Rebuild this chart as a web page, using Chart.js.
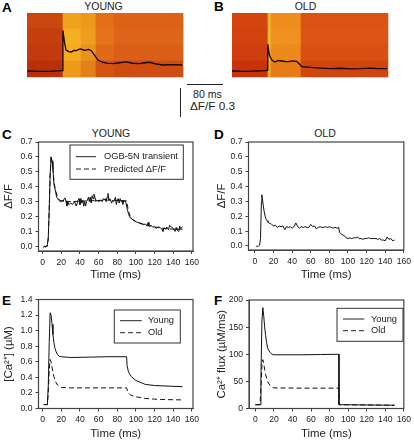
<!DOCTYPE html>
<html><head><meta charset="utf-8">
<script src="https://cdn.jsdelivr.net/npm/chart.js@4"></script>
<style>
html,body{margin:0;padding:0;background:#fff;width:414px;height:441px;overflow:hidden}
body{position:relative;font-family:"Liberation Sans",Arial,sans-serif;color:#222}
canvas{position:absolute;display:block}
.t{position:absolute;white-space:nowrap;line-height:1;transform:translate(-50%,-50%)}
.l{position:absolute;white-space:nowrap;line-height:1;font-weight:bold;font-size:13.5px;color:#000;transform:translateY(-50%)}
.bar{position:absolute;background:#222}
.edge{position:absolute;background:#f6cdb0}
</style></head><body>
<div class="l" style="left:2px;top:8px">A</div>
<div class="l" style="left:214px;top:7px">B</div>
<div class="l" style="left:2px;top:135px">C</div>
<div class="l" style="left:214px;top:135px">D</div>
<div class="l" style="left:2px;top:301px">E</div>
<div class="l" style="left:214px;top:301px">F</div>
<div class="t" style="left:103.5px;top:5.5px;font-size:10.5px">YOUNG</div>
<div class="t" style="left:305.5px;top:5.5px;font-size:10.5px">OLD</div>
<div class="t" style="left:111px;top:133px;font-size:10.5px">YOUNG</div>
<div class="t" style="left:325px;top:133px;font-size:10.5px">OLD</div>
<div class="bar" style="left:187px;top:84px;width:36px;height:1.3px"></div>
<div class="bar" style="left:179.5px;top:88px;width:1.5px;height:29px"></div>
<div class="t" style="left:207.5px;top:94px;font-size:10.6px">80 ms</div>
<div class="t" style="left:212.5px;top:106.7px;font-size:11.8px">&Delta;F/F 0.3</div>
<div class="edge" style="left:26.5px;top:12.5px;width:157px;height:65px"></div>
<div class="edge" style="left:231.5px;top:12.5px;width:157px;height:65px"></div>
<canvas id="a" width="156" height="64" style="left:27px;top:13px"></canvas>
<canvas id="aLine" width="156" height="64" style="left:27px;top:13px"></canvas>
<canvas id="b" width="156" height="64" style="left:232px;top:13px"></canvas>
<canvas id="bLine" width="156" height="64" style="left:232px;top:13px"></canvas>
<canvas id="c" width="207" height="160" style="left:0;top:120px"></canvas>
<canvas id="d" width="207" height="160" style="left:207px;top:120px"></canvas>
<canvas id="e" width="207" height="161" style="left:0;top:280px"></canvas>
<canvas id="f" width="207" height="161" style="left:207px;top:280px"></canvas>
<script>
const timeTicks=[0,20,40,60,80,100,120,140,160];
const dfTicks=[0,0.1,0.2,0.3,0.4,0.5,0.6,0.7];
const caTicks=[0,0.2,0.4,0.6,0.8,1.0,1.2,1.4];
const fluxTicks=[0,50,100,150,200];

// Line-scan colours: runs of [columns, colour], rows from top to bottom.
const heatA=[
 [[12,'#c9480f'],[6,'#f0a21f'],[5,'#ec9a1f'],[6,'#e26f1a'],[23,'#dd6117']],
 [[12,'#c53f0f'],[6,'#f4b022'],[5,'#ee9d1e'],[6,'#e5751b'],[23,'#de651a']],
 [[12,'#c33a0e'],[6,'#f3ab22'],[5,'#ea931c'],[6,'#e06a19'],[23,'#db5f18']],
 [[12,'#b8300c'],[6,'#ec9a1c'],[5,'#e2801a'],[6,'#d45414'],[23,'#cf4c13']]];
const heatB=[
 [[12,'#d4450f'],[1,'#f7b42c'],[10,'#ee8e1e'],[29,'#dc5214']],
 [[12,'#d2420f'],[1,'#f8b830'],[10,'#ef9220'],[29,'#dd5515']],
 [[12,'#cf3e0e'],[1,'#f7b42c'],[10,'#ec8a1c'],[29,'#da5013']],
 [[12,'#c8330b'],[1,'#f4a826'],[10,'#e67c18'],[29,'#d24510']]];

const traceA_t=[-79,-52,-29,-3,-1,1,4.5,8,14,20,26,31,37,42,48,53,59,65,72,80,91,100,114,128,144,158,174,185,197,212,227,249,270];
const traceA_v=[0,-0.005,-0.003,0.004,0.004,0.42,0.30,0.216,0.20,0.196,0.213,0.21,0.222,0.227,0.214,0.216,0.222,0.209,0.165,0.113,0.09,0.082,0.075,0.085,0.093,0.08,0.075,0.085,0.09,0.072,0.062,0.065,0.062];
const traceB_t=[-81,-47,-3,-1,0.7,4.4,9.7,17,24,32,40,47,56,66,72,77.5,90,104,120,141,165,187,210,232,250,270];
const traceB_v=[0,-0.003,0.004,0.01,0.275,0.165,0.113,0.093,0.108,0.103,0.098,0.096,0.104,0.1,0.072,0.044,0.04,0.034,0.03,0.024,0.028,0.021,0.024,0.03,0.024,0.024];

const cT=[1,2,3,4,5,6,7,8,9,10,11,12,13,14,15,16,17,18,19,20,21,22,23,24,25,26,27,28,30,32,34,36,38,39,40,41,42,43,44,45,46,47,48,49,50,51,52,53,54,55,56,57,58,60,62,64,65,66,67,68,69,70,71,72,74,75,76,77,78,79,80,81,82,83,84,85,86,87,88,89,90,91,92,93,94,95,96,97,98,100,102,104,106,108,110,112,113,114,116,118,120,122,124,126,128,129,130,132,133,135,136,138,140,142,143,144,146,147,148,150];
const cV=[-0.01,0,-0.005,0,0.01,0.06,0.25,0.48,0.6,0.57,0.52,0.42,0.39,0.36,0.33,0.32,0.31,0.305,0.3,0.3,0.31,0.3,0.32,0.325,0.3,0.27,0.3,0.28,0.29,0.28,0.3,0.27,0.31,0.32,0.28,0.32,0.29,0.31,0.27,0.3,0.27,0.3,0.31,0.33,0.3,0.33,0.29,0.34,0.32,0.35,0.33,0.3,0.31,0.3,0.31,0.3,0.32,0.31,0.32,0.3,0.33,0.355,0.31,0.32,0.29,0.31,0.3,0.31,0.33,0.28,0.31,0.32,0.29,0.32,0.3,0.31,0.28,0.31,0.3,0.3,0.27,0.24,0.22,0.2,0.19,0.19,0.18,0.18,0.175,0.165,0.16,0.155,0.15,0.145,0.15,0.135,0.16,0.135,0.14,0.13,0.13,0.12,0.13,0.125,0.115,0.1,0.125,0.115,0.13,0.11,0.14,0.13,0.12,0.1,0.125,0.11,0.1,0.135,0.12,0.13];
const cPredT=[1,5,6,7,8,9,10,11,12,13,14,16,18,20,30,50,70,90,91,92,94,96,100,110,120,130,140,150];
const cPredV=[0,0,0.05,0.25,0.48,0.6,0.58,0.52,0.44,0.4,0.37,0.33,0.31,0.305,0.3,0.305,0.31,0.305,0.27,0.235,0.2,0.18,0.165,0.145,0.13,0.12,0.115,0.115];

const dT=[1,2,3,4,5,6,7,7.5,8,9,10,11,12,13,14,15,17,18,20,22,24,26,28,30,32,34,36,38,40,42,44,46,48,50,52,54,56,58,60,62,64,66,68,70,72,74,76,78,80,82,84,86,88,90,91,92,94,96,98,100,102,104,106,108,110,112,114,116,118,120,122,124,126,128,130,132,134,136,138,140,142,144,146,148,150];
const dV=[-0.005,0,-0.005,0,0.005,0.05,0.3,0.345,0.32,0.27,0.23,0.2,0.18,0.17,0.16,0.155,0.15,0.145,0.135,0.14,0.125,0.135,0.13,0.135,0.11,0.13,0.125,0.13,0.12,0.13,0.155,0.13,0.12,0.13,0.125,0.13,0.125,0.125,0.145,0.13,0.135,0.115,0.125,0.13,0.125,0.125,0.13,0.125,0.13,0.125,0.12,0.125,0.12,0.125,0.09,0.085,0.075,0.07,0.055,0.05,0.055,0.05,0.055,0.055,0.06,0.05,0.05,0.045,0.05,0.05,0.055,0.05,0.05,0.05,0.05,0.045,0.05,0.04,0.04,0.035,0.06,0.045,0.05,0.035,0.04];

const eYoungT=[1,5,6,7,8,9,10,11,12,13,14,16,18,20,30,50,70,90,90.5,92,95,100,110,120,130,150];
const eYoungV=[0.05,0.05,0.3,0.85,1.23,1.2,1.08,0.95,0.85,0.78,0.74,0.69,0.67,0.665,0.655,0.66,0.665,0.665,0.55,0.47,0.41,0.36,0.31,0.295,0.29,0.28];
const eOldT=[1,5,6,7,8,9,10,11,12,14,16,18,20,30,50,70,90,91,92,94,97,100,110,120,130,150];
const eOldV=[0.05,0.05,0.2,0.5,0.63,0.6,0.53,0.47,0.41,0.34,0.3,0.28,0.27,0.265,0.265,0.265,0.265,0.23,0.2,0.175,0.16,0.15,0.13,0.12,0.115,0.11];

const fYoungT=[0,5,6,7,8,9,10,11,12,13,14,16,18,20,50,70,90,90.1,150];
const fYoungV=[7,7,60,160,186,170,150,135,122,113,108,103,100,99,99,99.5,100,7,6];
const fOldT=[0,5,6,7,8,9,10,11,12,13,14,16,18,20,50,90,90.1,150];
const fOldV=[7,7,40,80,90,82,72,63,56,51,47,42,40,38,37.5,37.5,7,6];

const INK='#222', FRAME='#444', SANS='"Liberation Sans",Arial,sans-serif';
const pts=(t,v)=>t.map((x,i)=>({x,y:v[i]}));
const expand=runs=>runs.flatMap(([n,c])=>Array(n).fill(c));

function heat(id,rows,t,v){
  const cols=rows.map(expand);
  const bars=cols.slice().reverse().map(c=>({data:c.map(()=>1),backgroundColor:c,borderWidth:0,
    barPercentage:1,categoryPercentage:1}));
  new Chart(document.getElementById(id),{type:'bar',data:{labels:cols[0].map((_,i)=>i),datasets:bars},
    options:{responsive:false,animation:false,devicePixelRatio:1,layout:{padding:0},
      plugins:{legend:{display:false},tooltip:{enabled:false}},
      scales:{x:{display:false,stacked:true},y:{display:false,stacked:true,min:0,max:rows.length}}}});
  new Chart(document.getElementById(id+'Line'),{type:'line',data:{datasets:[
    {data:pts(t,v),borderColor:'#140404',borderWidth:1.3,pointRadius:0,tension:0}]},
    options:{responsive:false,animation:false,devicePixelRatio:1,layout:{padding:0},
      plugins:{legend:{display:false},tooltip:{enabled:false}},
      scales:{x:{type:'linear',display:false,min:-80,max:272},y:{display:false,min:-0.062,max:0.598}}}});
}
heat('a',heatA,traceA_t,traceA_v);
heat('b',heatB,traceB_t,traceB_v);

const frameLegend={id:'frameLegend',afterDatasetsDraw(ch,_,o){
  const c=ch.ctx,a=ch.chartArea;c.save();
  c.strokeStyle=FRAME;c.lineWidth=1.2;c.strokeRect(a.left,a.top,a.right-a.left,a.bottom-a.top);
  if(o.box){
    const [x0,y0,x1,y1]=o.box;
    c.fillStyle='#fff';c.fillRect(x0,y0,x1-x0,y1-y0);
    c.strokeStyle='#333';c.lineWidth=1;c.strokeRect(x0,y0,x1-x0,y1-y0);
    c.font='9.3px '+SANS;c.textBaseline='middle';
    ch.data.datasets.forEach((d,i)=>{
      const y=o.rowY[i];
      c.strokeStyle=INK;c.lineWidth=1;c.setLineDash(d.borderDash||[]);
      c.beginPath();c.moveTo(o.line[0],y);c.lineTo(o.line[1],y);c.stroke();c.setLineDash([]);
      c.fillStyle=INK;c.fillText(d.label,o.textX,y);
    });
  }
  c.restore();
}};

function panel(id,cfg){
  const cv=document.getElementById(id),W=cv.width,H=cv.height;
  const [l,t,r,b]=cfg.plot;
  const tickFont={family:SANS,size:8.6},titleFont={family:SANS,size:11.4};
  new Chart(cv,{type:'line',plugins:[frameLegend],
    data:{datasets:cfg.series.map(s=>({label:s.label,data:s.data,borderColor:'#111',borderWidth:1,
      borderDash:s.dash,pointRadius:0,tension:0}))},
    options:{responsive:false,animation:false,devicePixelRatio:1,
      layout:{padding:{top:t,right:W-r,left:0,bottom:0}},
      plugins:{legend:{display:false},tooltip:{enabled:false},frameLegend:cfg.legend||{}},
      scales:{
        x:{type:'linear',min:cfg.xMin,max:cfg.xMax,
          afterBuildTicks:s=>{s.ticks=timeTicks.map(value=>({value}))},
          afterFit:s=>{s.height=H-b},
          grid:{drawOnChartArea:false,tickLength:3,color:FRAME},border:{color:FRAME},
          ticks:{font:tickFont,color:INK,padding:3,maxRotation:0,autoSkip:false},
          title:{display:true,text:'Time (ms)',font:titleFont,color:INK,padding:{top:0,bottom:cfg.xTitlePad}}},
        y:{type:'linear',min:cfg.yMin,max:cfg.yMax,
          afterBuildTicks:s=>{s.ticks=cfg.yTicks.map(value=>({value}))},
          afterFit:s=>{s.width=l},
          grid:{drawOnChartArea:false,tickLength:3,color:FRAME},border:{color:FRAME},
          ticks:{font:tickFont,color:INK,padding:3,autoSkip:false,callback:cfg.yFmt},
          title:{display:true,text:cfg.yTitle,font:titleFont,color:INK,padding:{top:cfg.yTitlePad,bottom:0}}}
      }}});
}
const f1=v=>v.toFixed(1), f0=v=>String(v);
panel('c',{plot:[38.5,22,193,131],xMin:-4.5,xMax:161.2,yMin:-0.0315,yMax:0.7,yTicks:dfTicks,yFmt:f1,yTitle:'\u0394F/F',yTitlePad:2,xTitlePad:-2,
  series:[{label:'OGB-5N transient',data:pts(cT,cV)},{label:'Predicted \u0394F/F',data:pts(cPredT,cPredV),dash:[5,3]}],
  legend:{box:[70,25,183.3,59.3],line:[76,96],rowY:[36.7,49],textX:104}});
panel('d',{plot:[41.5,22,199,130],xMin:-6.9,xMax:160,yMin:-0.027,yMax:0.7,yTicks:dfTicks,yFmt:f1,yTitle:'\u0394F/F',yTitlePad:8,xTitlePad:-2,
  series:[{label:'OGB-5N transient',data:pts(dT,dV)}]});
panel('e',{plot:[38.5,19.5,193,128.5],xMin:-4.5,xMax:161.2,yMin:0,yMax:1.4,yTicks:caTicks,yFmt:f1,yTitle:'[Ca\u00B2\u207A] (\u00B5M)',yTitlePad:2,xTitlePad:0,
  series:[{label:'Young',data:pts(eYoungT,eYoungV)},{label:'Old',data:pts(eOldT,eOldV),dash:[5,3]}],
  legend:{box:[114.3,30,180.3,63],line:[120,141.7],rowY:[40.7,52.7],textX:148}});
panel('f',{plot:[42,20,199,128.5],xMin:-6.9,xMax:160,yMin:0,yMax:200,yTicks:fluxTicks,yFmt:f0,yTitle:'Ca\u00B2\u207A flux (\u00B5M/ms)',yTitlePad:8,xTitlePad:0,
  series:[{label:'Young',data:pts(fYoungT,fYoungV)},{label:'Old',data:pts(fOldT,fOldV),dash:[5,3]}],
  legend:{box:[130,28.3,196,61.3],line:[136,157.3],rowY:[39,50.7],textX:164}});
</script>
</body></html>
